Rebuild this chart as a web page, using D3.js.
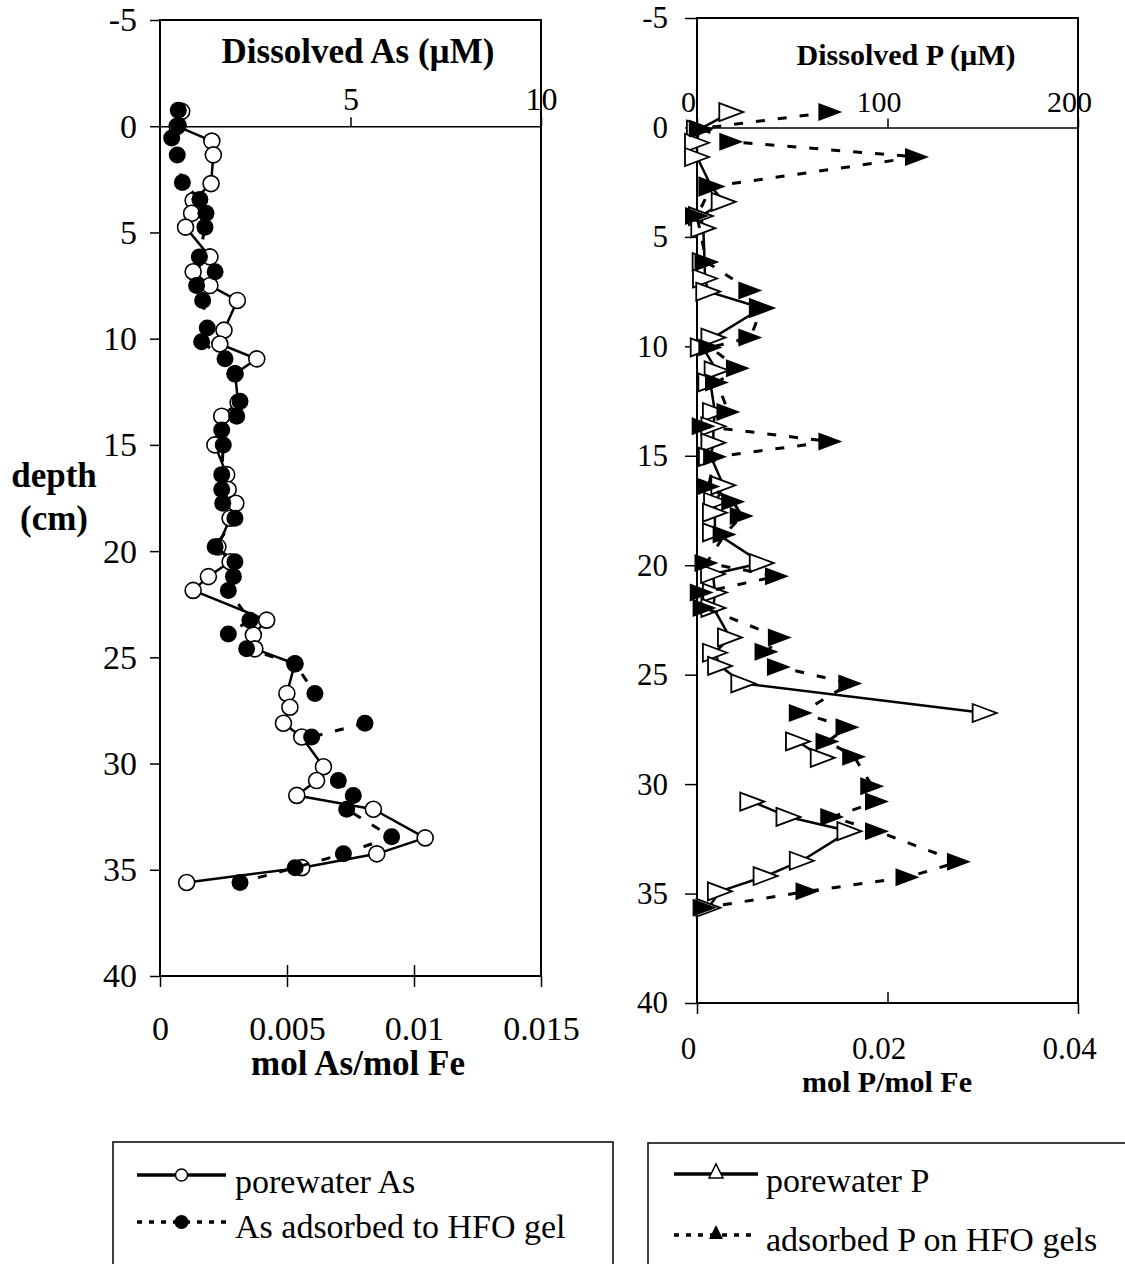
<!DOCTYPE html>
<html>
<head>
<meta charset="utf-8">
<script src="https://cdnjs.cloudflare.com/ajax/libs/d3/7.8.5/d3.min.js"></script>
<style>
  body { margin:0; background:#fff; }
  svg text { font-family:"Liberation Serif","Times New Roman",serif; fill:#000; }
</style>
</head>
<body>
<div id="body"></div>
<script>
//---DATA
var depthTicks = [-5, 0, 5, 10, 15, 20, 25, 30, 35, 40];
var asTopTicks = [5, 10];
var asBottomTicks = [0, 0.005, 0.01, 0.015];
var pTopTicks = [0, 100, 200];
var pBottomTicks = [0, 0.02, 0.04];

// porewater As, uM (top axis)
var asPwDepth = [-0.7, 0, 0.7, 1.35, 2.7, 3.5, 4.1, 4.75, 6.15, 6.85, 7.5, 8.2, 9.6, 10.25, 10.95, 11.65, 13.0, 13.65, 15.0,
  16.4, 17.1, 17.75, 18.45, 19.8, 20.5, 21.2, 21.85, 23.25, 23.95, 24.6, 25.3, 26.7, 27.35, 28.1, 28.75,
  30.15, 30.8, 31.5, 32.15, 33.5, 34.25, 34.9, 35.6];
var asPw = [0.57, 0.45, 1.36, 1.40, 1.34, 0.87, 0.83, 0.67, 1.31, 0.87, 1.31, 2.03, 1.68, 1.57, 2.54, 1.97, 2.05, 1.62, 1.44,
  1.75, 1.79, 1.99, 1.84, 1.52, 1.84, 1.27, 0.87, 2.80, 2.45, 2.49, 3.54, 3.33, 3.41, 3.24, 3.72,
  4.29, 4.11, 3.59, 5.60, 6.96, 5.69, 3.72, 0.70];

// As adsorbed to HFO gel, mol As/mol Fe (bottom axis)
var asGelDepth = [-0.75, -0.05, 0.55, 1.35, 2.65, 3.45, 4.1, 4.75, 6.15, 6.85, 7.5, 8.2, 9.5, 10.15, 10.95, 11.65, 12.95, 13.65,
  14.3, 15.0, 16.4, 17.1, 17.75, 18.45, 19.8, 20.5, 21.2, 21.85, 23.25, 23.9, 24.6, 25.3, 26.7, 27.35, 28.1, 28.75,
  30.15, 30.8, 31.5, 32.15, 33.45, 34.25, 34.9, 35.6];
var asGel = [0.00072, 0.00072, 0.00046, 0.00068, 0.00088, 0.00157, 0.00181, 0.00177, 0.00155, 0.00217, 0.00144, 0.00168,
  0.00186, 0.00164, 0.00256, 0.00295, 0.00315, 0.00302, 0.00243, 0.00249, 0.00243, 0.00243, 0.00247, 0.00295, 0.00217,
  0.00295, 0.00289, 0.00269, 0.00354, 0.00269, 0.00341, 0.00532, 0.00610, null, 0.00807, 0.00597,
  null, 0.00702, 0.00761, 0.00735, 0.00912, 0.00722, 0.00532, 0.00315];

// porewater P, uM (top axis)
var pPwDepth = [-0.7, 0.1, 0.7, 1.35, 2.7, 3.4, 4.05, 4.6, 6.15, 6.9, 7.5, 8.25, 9.6, 10.05, 11.1, 11.65, 13.0, 13.65, 14.4,
  15.05, 16.35, 17.1, 17.6, 18.5, 19.9, 20.4, 21.25, 21.95, 23.3, 24.0, 24.6, 25.4, 26.75, 27.4, 28.05, 28.8,
  30.1, 30.8, 31.5, 32.15, 33.5, 34.2, 34.9, 35.65];
var pPw = [18, 1, 0, 0, 7.5, 14, 2, 3.3, 4, 4.2, 5.9, 34, 8.6, 3, 10.3, 7, 9.4, 8.6, 8.6,
  7.3, 13.8, 10, 9.4, 9.4, 34, 8.4, 9.4, 8.6, 17.3, 9.4, 12.1, 24.3, 151, null, 53, 66,
  null, 29, 48, 80, 55, 36, 12, 6];

// adsorbed P on HFO gels, mol P/mol Fe (bottom axis)
var pGelDepth = [-0.7, 0.05, 0.65, 1.35, 2.7, 4.05, 6.15, 7.45, 8.25, 9.6, 10.05, 11.0, 11.65, 13.0, 13.65, 14.35, 15.05,
  16.4, 17.1, 17.75, 18.6, 19.9, 20.5, 21.25, 21.95, 23.3, 23.95, 24.65, 25.4, 26.75, 27.4, 28.05, 28.75,
  30.1, 30.8, 31.5, 32.15, 33.55, 34.25, 34.9, 35.65];
var pGel = [0.0140, 0.0004, 0.0036, 0.0231, 0.0015, 0.0000, 0.0010, 0.0056, 0.0068, 0.0056, 0.0014, 0.0043, 0.0021,
  0.0033, 0.0007, 0.0140, 0.0019, 0.0012, 0.0038, 0.0047, 0.0029, 0.0010, 0.0084, 0.0005, 0.0008, 0.0087, 0.0073,
  0.0086, 0.0161, 0.0109, 0.0158, 0.0137, 0.0165, 0.0184, 0.0189, 0.0142, 0.0189, 0.0275, 0.0221, 0.0116, 0.0008];

var width = 1125;
var height = 1264;
var triRight = "M-12,-9L12,0L-12,9Z";
var triUp = "M-7,6L0,-8L7,6Z";

var svg = d3.select("#body").append("svg")
  .attr("width", width)
  .attr("height", height);

svg.append("rect")
  .attr("width", width)
  .attr("height", height)
  .attr("fill", "#fff");

function pairs(depths, vals){
  return depths.map(function(d, i){ return {depth: d, value: vals[i]}; });
}

function label(txt, x, y, size, bold, anchor){
  return svg.append("text")
    .attr("x", x)
    .attr("y", y)
    .attr("font-size", size)
    .attr("font-weight", bold ? "bold" : "normal")
    .attr("text-anchor", anchor || "middle")
    .text(txt);
}

//---PANEL (frame, axes, two series)
function panel(o){
  var g = svg.append("g");
  var y = d3.scaleLinear().domain([-5, 40]).range([o.top, o.bottom]);
  var xb = d3.scaleLinear().domain(o.bottomDomain).range([o.left, o.right]);
  var xt = d3.scaleLinear().domain(o.topDomain).range([o.left, o.right]);

  // depth axis
  var ya = g.append("g")
    .attr("transform", "translate(" + o.left + ",0)")
    .call(d3.axisLeft(y).tickValues(depthTicks).tickSize(o.yTick).tickSizeOuter(0)
      .tickPadding(o.yPad).tickFormat(function(d){ return String(d); }));
  ya.select(".domain").remove();
  ya.selectAll("text").attr("font-size", o.font);

  // bottom axis (mol/mol)
  var xa = g.append("g")
    .attr("transform", "translate(0," + o.bottom + ")")
    .call(d3.axisBottom(xb).tickValues(o.bottomTicks).tickSize(11).tickSizeOuter(0)
      .tickPadding(o.xPad).tickFormat(function(d){ return String(d); }));
  xa.select(".domain").remove();
  xa.selectAll("text").attr("font-size", o.font).attr("dx", o.labelShift);
  xa.selectAll(".tick line").attr("y1", function(d, i){
    return (i > 0 && i < o.bottomTicks.length - 1) ? -11 : 0;
  }).attr("y2", function(d, i){
    return (o.midTickUp && i > 0 && i < o.bottomTicks.length - 1) ? 0 : 11;
  });

  // depth-zero axis (uM)
  var ta = g.append("g")
    .attr("transform", "translate(0," + y(0) + ")")
    .call(d3.axisTop(xt).tickValues(o.topTicks).tickSize(9).tickSizeOuter(0)
      .tickPadding(o.topPad).tickFormat(function(d){ return String(d); }));
  ta.selectAll("text").attr("font-size", o.topFont).attr("dx", o.labelShift);
  ta.select(".domain").attr("stroke-width", 1.5);

  g.selectAll(".tick line").attr("stroke-width", 1.5);
  g.selectAll(".tick text").style("font-family", "'Liberation Serif','Times New Roman',serif");

  // frame
  g.append("rect")
    .attr("x", o.left)
    .attr("y", o.top)
    .attr("width", o.right - o.left)
    .attr("height", o.bottom - o.top)
    .attr("fill", "none")
    .attr("stroke", "#000")
    .attr("stroke-width", 2);

  var pw = pairs(o.pwDepth, o.pw);
  var gel = pairs(o.gelDepth, o.gel);

  var linePw = d3.line()
    .defined(function(d){ return d.value != null; })
    .x(function(d){ return xt(d.value); })
    .y(function(d){ return y(d.depth); });
  var lineGel = d3.line()
    .defined(function(d){ return d.value != null; })
    .x(function(d){ return xb(d.value); })
    .y(function(d){ return y(d.depth); });

  var pwOk = pw.filter(function(d){ return d.value != null; });
  var gelOk = gel.filter(function(d){ return d.value != null; });

  // porewater: solid line, open markers
  g.append("path").datum(pw)
    .attr("d", linePw)
    .attr("fill", "none")
    .attr("stroke", "#000")
    .attr("stroke-width", 2.5)
    .attr("stroke-linejoin", "round");
  if(o.shape == "circle"){
    g.selectAll(".pw").data(pwOk).enter().append("circle")
      .attr("cx", function(d){ return xt(d.value); })
      .attr("cy", function(d){ return y(d.depth); })
      .attr("r", 8)
      .attr("fill", "#fff")
      .attr("stroke", "#000")
      .attr("stroke-width", 1.6);
  } else {
    g.selectAll(".pw").data(pwOk).enter().append("path")
      .attr("d", triRight)
      .attr("transform", function(d){ return "translate(" + xt(d.value) + "," + y(d.depth) + ")"; })
      .attr("fill", "#fff")
      .attr("stroke", "#000")
      .attr("stroke-width", 1.8);
  }

  // adsorbed to gel: dashed line, filled markers
  g.append("path").datum(gel)
    .attr("d", lineGel)
    .attr("fill", "none")
    .attr("stroke", "#000")
    .attr("stroke-width", 3)
    .attr("stroke-dasharray", "9,13");
  if(o.shape == "circle"){
    g.selectAll(".gel").data(gelOk).enter().append("circle")
      .attr("cx", function(d){ return xb(d.value); })
      .attr("cy", function(d){ return y(d.depth); })
      .attr("r", 8.5)
      .attr("fill", "#000");
  } else {
    g.selectAll(".gel").data(gelOk).enter().append("path")
      .attr("d", triRight)
      .attr("transform", function(d){ return "translate(" + xb(d.value) + "," + y(d.depth) + ")"; })
      .attr("fill", "#000");
  }
}

panel({
  left: 160, right: 541, top: 20, bottom: 976,
  bottomDomain: [0, 0.015], topDomain: [0, 10],
  bottomTicks: asBottomTicks, topTicks: asTopTicks,
  yTick: 10, yPad: 13, xPad: 29, topPad: 7,
  font: 34, topFont: 32, labelShift: 0, midTickUp: false,
  pwDepth: asPwDepth, pw: asPw, gelDepth: asGelDepth, gel: asGel,
  shape: "circle"
});

panel({
  left: 697, right: 1078, top: 18, bottom: 1003,
  bottomDomain: [0, 0.04], topDomain: [0, 200],
  bottomTicks: pBottomTicks, topTicks: pTopTicks,
  yTick: 12, yPad: 17, xPad: 23, topPad: 6,
  font: 31, topFont: 30, labelShift: -9, midTickUp: true,
  pwDepth: pPwDepth, pw: pPw, gelDepth: pGelDepth, gel: pGel,
  shape: "triangle"
});

//---AXIS TITLES
label("Dissolved As (\u00b5M)", 358, 63, 35, true);
label("mol As/mol Fe", 358, 1075, 35, true);
label("Dissolved P (\u00b5M)", 906, 65, 30, true);
label("mol P/mol Fe", 887, 1092, 30, true);
label("depth", 54, 487, 35, true);
label("(cm)", 54, 530, 35, true);

//---LEGENDS
var leg = svg.append("g");
leg.append("rect").attr("x", 113).attr("y", 1142).attr("width", 500).attr("height", 200)
  .attr("fill", "none").attr("stroke", "#000").attr("stroke-width", 1.5);
leg.append("rect").attr("x", 648).attr("y", 1143).attr("width", 500).attr("height", 200)
  .attr("fill", "none").attr("stroke", "#000").attr("stroke-width", 1.5);

leg.append("line").attr("x1", 137).attr("x2", 226).attr("y1", 1175).attr("y2", 1175)
  .attr("stroke", "#000").attr("stroke-width", 3.5);
leg.append("circle").attr("cx", 181.5).attr("cy", 1175).attr("r", 6)
  .attr("fill", "#fff").attr("stroke", "#000").attr("stroke-width", 1.5);
leg.append("line").attr("x1", 137).attr("x2", 226).attr("y1", 1222).attr("y2", 1222)
  .attr("stroke", "#000").attr("stroke-width", 3.5).attr("stroke-dasharray", "5,7");
leg.append("circle").attr("cx", 181.5).attr("cy", 1222).attr("r", 7).attr("fill", "#000");

leg.append("line").attr("x1", 674).attr("x2", 758).attr("y1", 1174).attr("y2", 1174)
  .attr("stroke", "#000").attr("stroke-width", 3.5);
leg.append("path").attr("d", triUp).attr("transform", "translate(716,1172)")
  .attr("fill", "#fff").attr("stroke", "#000").attr("stroke-width", 1.5);
leg.append("line").attr("x1", 674).attr("x2", 758).attr("y1", 1235).attr("y2", 1235)
  .attr("stroke", "#000").attr("stroke-width", 3.5).attr("stroke-dasharray", "5,7");
leg.append("path").attr("d", triUp).attr("transform", "translate(716,1233)").attr("fill", "#000");

label("porewater As", 235, 1193, 34, false, "start");
label("As adsorbed to HFO gel", 235, 1238, 34, false, "start");
label("porewater P", 766, 1192, 34, false, "start");
label("adsorbed P on HFO gels", 766, 1251, 34, false, "start");
</script>
</body>
</html>
